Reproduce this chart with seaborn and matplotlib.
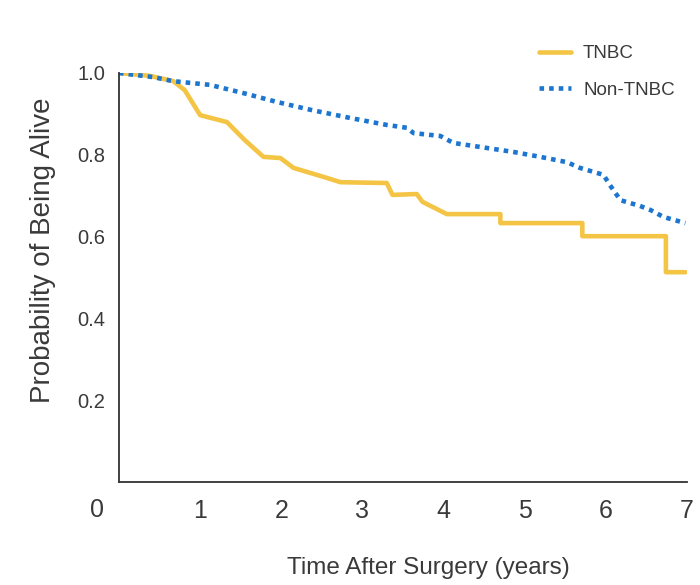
import matplotlib
matplotlib.use("Agg")
import matplotlib.pyplot as plt
import matplotlib.transforms as mtransforms
import seaborn as sns
import pandas as pd

# ---- data ----
tnbc_years = [0.00, 0.38, 0.67, 0.81, 1.00, 1.33, 1.55, 1.78, 1.99, 2.15, 2.52, 2.73,
              3.30, 3.37, 3.67, 3.74, 3.87, 4.04, 4.70, 4.70, 5.71, 5.71, 6.74, 6.74, 6.98]
tnbc_surv = [1.000, 0.993, 0.980, 0.958, 0.897, 0.880, 0.836, 0.795, 0.792, 0.768, 0.746, 0.733,
             0.731, 0.702, 0.704, 0.685, 0.672, 0.655, 0.655, 0.633, 0.633, 0.601, 0.601, 0.513, 0.513]

non_years = [0.00, 0.42, 0.67, 1.12, 1.53, 1.95, 2.36, 2.85, 3.30, 3.55, 3.63, 3.96, 4.12,
             4.86, 5.19, 5.52, 5.68, 5.97, 6.05, 6.18, 6.42, 6.55, 6.71, 6.98]
non_surv = [1.000, 0.990, 0.980, 0.971, 0.951, 0.929, 0.910, 0.890, 0.873, 0.866, 0.853, 0.846, 0.829,
            0.807, 0.795, 0.782, 0.768, 0.751, 0.726, 0.689, 0.675, 0.665, 0.648, 0.633]

group_labels = ["TNBC", "Non-TNBC"]
x_ticks = [1, 2, 3, 4, 5, 6, 7]
y_ticks = [0.2, 0.4, 0.6, 0.8, 1.0]
y_tick_labels = ["0.2", "0.4", "0.6", "0.8", "1.0"]
x_label = "Time After Surgery (years)"
y_label = "Probability of Being Alive"
origin_label = "0"

tnbc_df = pd.DataFrame({"t": tnbc_years, "s": tnbc_surv})
non_df = pd.DataFrame({"t": non_years, "s": non_surv})

# ---- style ----
sns.set_style("white")
plt.rcParams["font.family"] = ["Liberation Sans", "DejaVu Sans"]
txt = "#3a3a3a"

fig = plt.figure(figsize=(7.0, 5.85), dpi=100)
ax = fig.add_axes([119 / 700, 1 - 482 / 585, (687 - 119) / 700, (482 - 73) / 585])

yellow = "#F4C445"
blue = "#1C76CF"

sns.lineplot(data=tnbc_df, x="t", y="s", ax=ax, estimator=None, sort=False,
             color=yellow, linewidth=3.3, label=group_labels[0])
sns.lineplot(data=non_df, x="t", y="s", ax=ax, estimator=None, sort=False,
             color=blue, linewidth=3.3, linestyle=(0, (1, 1.1)), label=group_labels[1])

ax.set_xlim(0, 7)
ax.set_ylim(0, 1.0)

for s in ["top", "right"]:
    ax.spines[s].set_visible(False)
for s in ["left", "bottom"]:
    ax.spines[s].set_color("#333333")
    ax.spines[s].set_linewidth(1.3)

ax.set_xticks(x_ticks)
ax.set_xticklabels([str(v) for v in x_ticks], fontsize=18, color=txt)
ax.set_yticks(y_ticks)
ax.set_yticklabels(y_tick_labels, fontsize=14.5, color=txt)
ax.tick_params(axis="x", direction="out", length=6, width=1.2, color="#333333", pad=6)
ax.tick_params(axis="y", direction="out", length=7, width=1.2, color="#333333", pad=3)

# origin "0" label at the corner
trans = mtransforms.blended_transform_factory(ax.transData, ax.transAxes)
ax.text(-0.27, -0.0685, origin_label, transform=trans, ha="center", va="center",
        fontsize=18, color=txt, clip_on=False)

ax.set_xlabel(x_label, fontsize=17.5, color=txt)
ax.xaxis.set_label_coords((428 - 119) / 568, (482 - 557) / 409)
ax.set_ylabel(y_label, fontsize=20, color=txt)
ax.yaxis.set_label_coords((56 - 119) / 568, (482 - 250) / 409)

leg = ax.legend(loc="upper left", bbox_to_anchor=(539 / 700, 1 - 45 / 585),
                bbox_transform=fig.transFigure, frameon=False, fontsize=13.5,
                handlelength=1.7, handletextpad=0.65, labelspacing=1.05,
                borderpad=0, borderaxespad=0)
for t in leg.get_texts():
    t.set_color(txt)

fig.savefig("out.png", dpi=100)
